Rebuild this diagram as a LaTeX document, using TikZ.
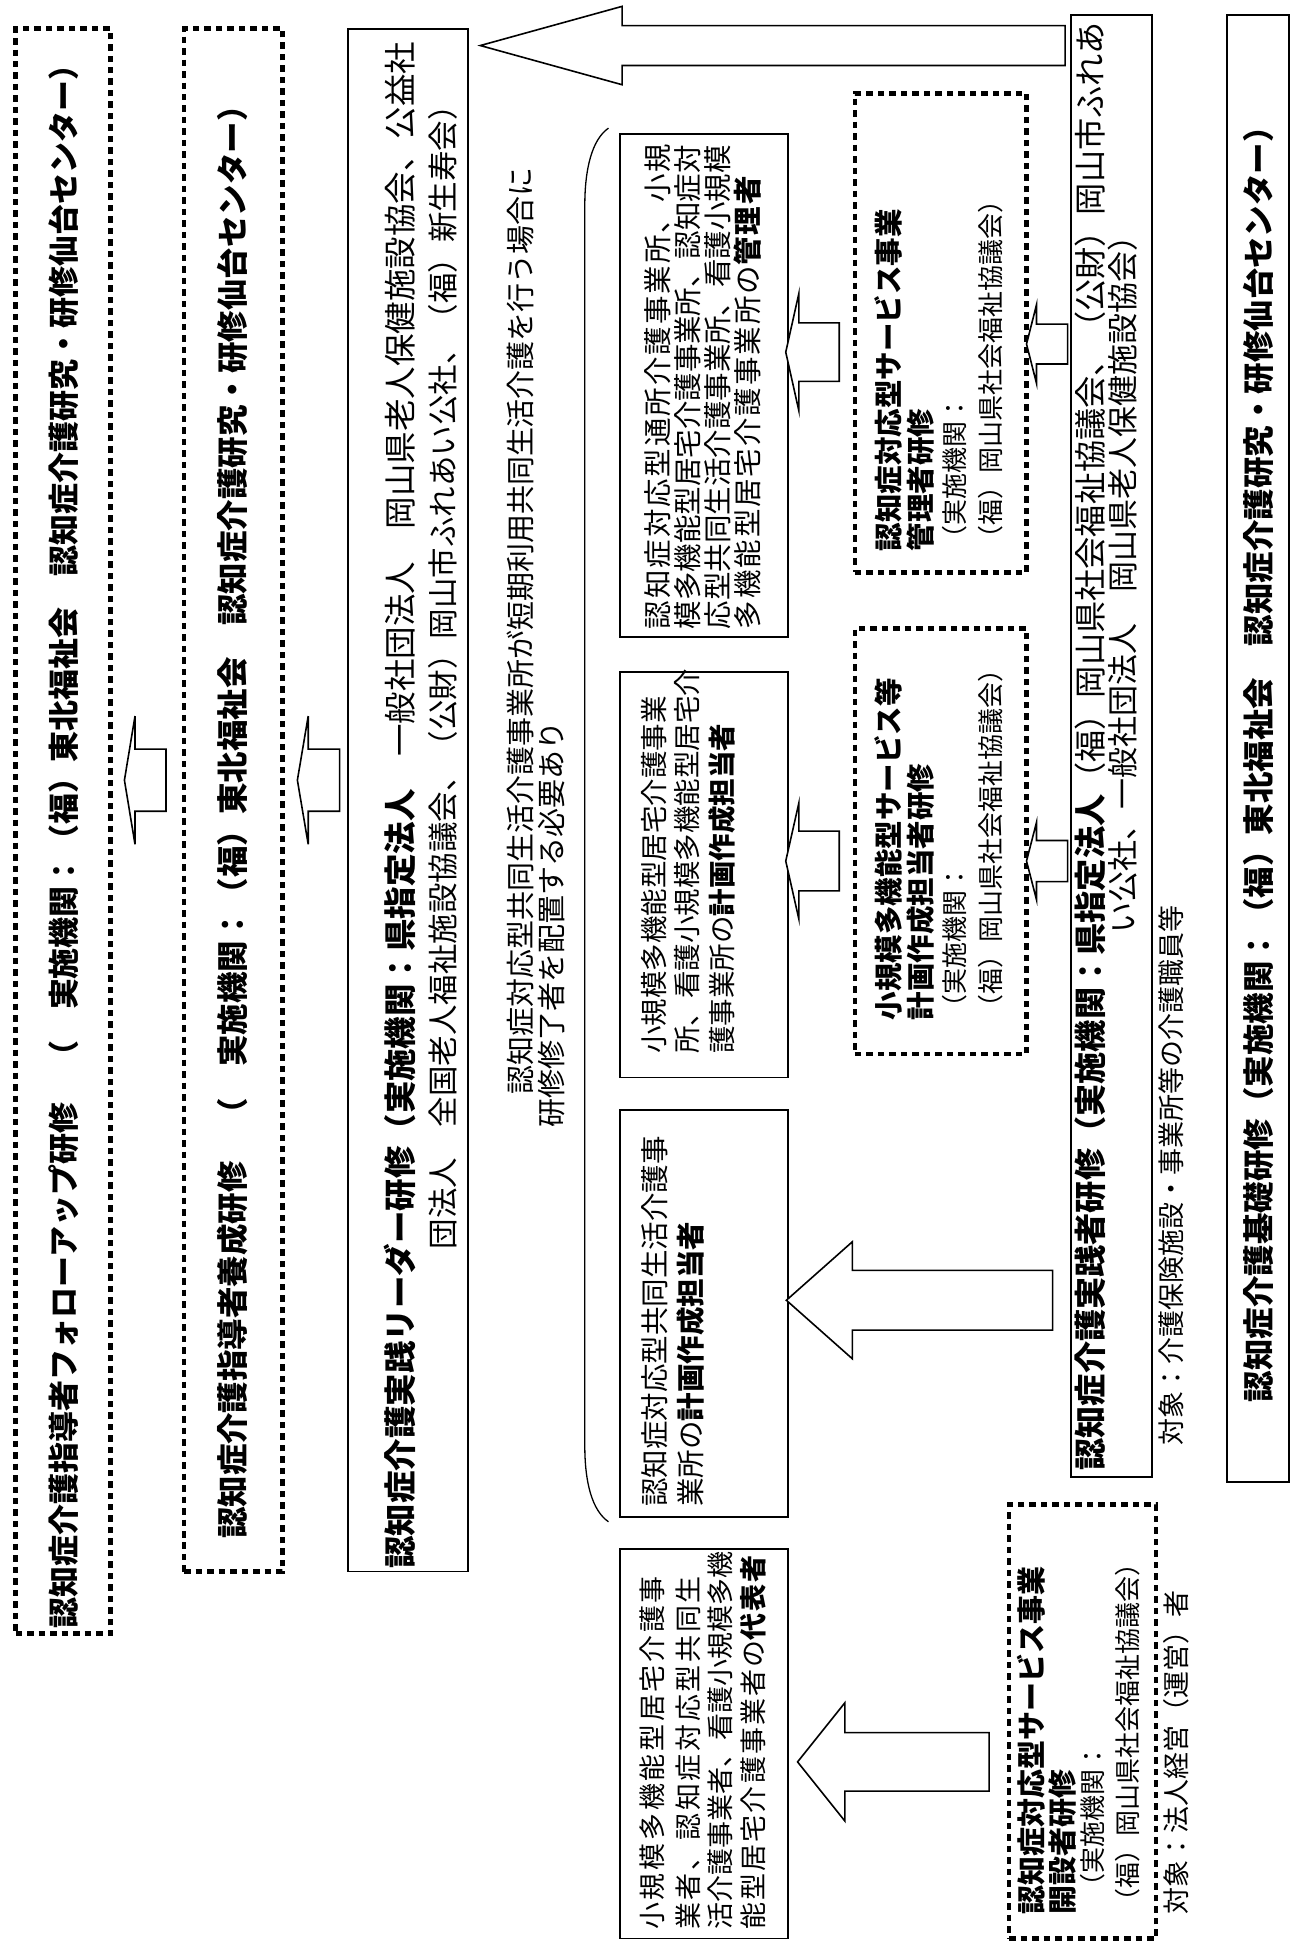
\documentclass[tikz,border=0pt]{standalone}
\usepackage{fontspec}
\setmainfont{Noto Sans CJK JP}
\usetikzlibrary{fit}
\newcommand{\fsz}[1]{\fontsize{#1}{#1}\selectfont}
\newcommand{\lsp}[1]{\addfontfeature{LetterSpace=#1}}
\newcommand{\myLarrow}[6]{%
  \draw[harrow] (#1,#2) -- (#3,{#2-#4}) -- (#3,{#2-#5}) -- (#6,{#2-#5}) -- (#6,{#2+#5}) -- (#3,{#2+#5}) -- (#3,{#2+#4}) -- cycle;}
\begin{document}
\begin{tikzpicture}[x=1.2447pt,y=-1.2447pt,
  tl/.style={rotate=90,anchor=west,inner sep=0pt},
  dotbox/.style={draw,line width=4.5pt,dash pattern=on 6.5pt off 5pt,inner sep=0pt},
  solidbox/.style={draw,line width=1.8pt,inner sep=0pt},
  harrow/.style={draw,line width=1.6pt,fill=white,line join=miter}]
\fill[white] (0,0) rectangle (1038,1568);
\useasboundingbox (0,0) rectangle (1038,1568);

% ---- boxes ----
\node[dotbox,fit={(12.5,23) (89,1313)}] (b1) {};
\node[dotbox,fit={(148,23) (227,1263)}] (b2) {};
\node[solidbox,fit={(280,23) (376,1263)}] (b3) {};
\node[solidbox,fit={(498,108) (633,512)}] (bA) {};
\node[solidbox,fit={(498,540) (633,866)}] (bB) {};
\node[solidbox,fit={(498,892) (633,1219)}] (bC) {};
\node[solidbox,fit={(498,1245) (633,1558)}] (bD) {};
\node[dotbox,fit={(687,75) (825,460)}] (bE) {};
\node[dotbox,fit={(687,505) (825,847)}] (bF) {};
\node[dotbox,fit={(811,1209) (929,1558)}] (bG) {};
\node[solidbox,fit={(861,12) (926,1187)}] (bH) {};
\node[solidbox,fit={(986,12) (1036,1191)}] (bI) {};

% ---- arrows ----
\myLarrow{100}{627}{108.5}{51.5}{25}{133.4}
\myLarrow{239}{627}{247.7}{51.5}{25}{273}
\myLarrow{386}{36.6}{500}{31.5}{16}{856}
\myLarrow{631.5}{283}{642}{47}{23.5}{674.5}
\myLarrow{631.5}{692}{642}{46.5}{24}{674.5}
\myLarrow{825}{276.5}{833}{31.5}{16}{858}
\myLarrow{825}{692}{833}{31}{16.5}{858}
\myLarrow{632}{1045}{685}{47}{24}{846}
\myLarrow{641}{1416}{679}{47.5}{23.5}{795}

% ---- bracket ----
\draw[line width=1.3pt] (489,103) .. controls (476,112) and (470,135) .. (470,165) -- (470,1162) .. controls (470,1192) and (476,1214) .. (489,1223);

% ---- texts ----
\node[tl,font={\fsz{31}\bfseries}] (t1) at (51.5,1309) {認知症介護指導者フォローアップ研修　（　実施機関：（福）東北福祉会　認知症介護研究・研修仙台センター）};
\node[tl,font={\fsz{31.5}\bfseries}] (t2) at (187,1237) {認知症介護指導者養成研修　（　実施機関：（福）東北福祉会　認知症介護研究・研修仙台センター）};
\node[tl,font={\fsz{32.5}}] (t3a) at (321.5,1261) {{\bfseries 認知症介護実践リーダー研修（実施機関：県指定法人}　一般社団法人　岡山県老人保健施設協会、公益社};
\node[tl,font={\fsz{30.5}}] (t3b) at (356,1004) {団法人　全国老人福祉施設協議会、（公財）岡山市ふれあい公社、（福）新生寿会）};

\node[tl,font={\fsz{29}}] (n1) at (418,880) {認知症対応型共同生活介護事業所が短期利用共同生活介護を行う場合に};
\node[tl,font={\fsz{29}}] (n2) at (443.5,906) {研修修了者を配置する必要あり};

\node[tl,font={\fsz{28.5}\lsp{7}}] (a1) at (528.6,506) {認知症対応型通所介護事業所、小規};
\node[tl,font={\fsz{28.5}}] (a2) at (553,506) {模多機能型居宅介護事業所、認知症対};
\node[tl,font={\fsz{28.5}}] (a3) at (577,506) {応型共同生活介護事業所、看護小規模};
\node[tl,font={\fsz{28.5}\lsp{7}}] (a4) at (601,506) {多機能型居宅介護事業所の{\bfseries 管理者}};

\node[tl,font={\fsz{27.5}}] (bb1) at (526,847) {小規模多機能型居宅介護事業};
\node[tl,font={\fsz{27.5}}] (bb2) at (552.5,847) {所、看護小規模多機能型居宅介};
\node[tl,font={\fsz{27.5}}] (bb3) at (580,847) {護事業所の{\bfseries 計画作成担当者}};

\node[tl,font={\fsz{28.5}}] (c1) at (526,1211) {認知症対応型共同生活介護事};
\node[tl,font={\fsz{28.5}}] (c2) at (555,1211) {業所の{\bfseries 計画作成担当者}};

\node[tl,font={\fsz{27}\lsp{10}}] (d1) at (524,1551) {小規模多機能型居宅介護事};
\node[tl,font={\fsz{27}\lsp{10}}] (d2) at (553.5,1551) {業者、認知症対応型共同生};
\node[tl,font={\fsz{27}}] (d3) at (578.5,1551) {活介護事業者、看護小規模多機};
\node[tl,font={\fsz{27}\lsp{8}}] (d4) at (605,1551) {能型居宅介護事業者の{\bfseries 代表者}};

\node[tl,font={\fsz{28.5}\bfseries}] (e1) at (714,443) {認知症対応型サービス事業};
\node[tl,font={\fsz{28.5}\bfseries}] (e2) at (740,443) {管理者研修};
\node[tl,font={\fsz{26}}] (e3) at (767,443) {（実施機関：};
\node[tl,font={\fsz{26}}] (e4) at (796,443) {（福）岡山県社会福祉協議会）};

\node[tl,font={\fsz{28.5}\bfseries}] (f1) at (714,820) {小規模多機能型サービス等};
\node[tl,font={\fsz{28.5}\bfseries}] (f2) at (740,820) {計画作成担当者研修};
\node[tl,font={\fsz{26}}] (f3) at (767,820) {（実施機関：};
\node[tl,font={\fsz{26}}] (f4) at (796,820) {（福）岡山県社会福祉協議会）};

\node[tl,font={\fsz{29}\bfseries}] (g1) at (829,1539) {認知症対応型サービス事業};
\node[tl,font={\fsz{29}\bfseries}] (g2) at (854,1539) {開設者研修};
\node[tl,font={\fsz{26}}] (g3) at (878,1527) {（実施機関：};
\node[tl,font={\fsz{26}}] (g4) at (906,1539) {（福）岡山県社会福祉協議会）};
\node[tl,font={\fsz{27}}] (g5) at (945,1539) {対象：法人経営（運営）者};

\node[tl,font={\fsz{32.2}}] (h1) at (876.5,1182) {{\bfseries 認知症介護実践者研修（実施機関：県指定法人}（福）岡山県社会福祉協議会、（公財）岡山市ふれあ};
\node[tl,font={\fsz{31}}] (h2) at (902,750) {い公社、一般社団法人　岡山県老人保健施設協会）};
\node[tl,font={\fsz{27}}] (h3) at (941,1162) {対象：介護保険施設・事業所等の介護職員等};

\node[tl,font={\fsz{31.5}\bfseries}] (i1) at (1011.5,1127) {認知症介護基礎研修（実施機関：（福）東北福祉会　認知症介護研究・研修仙台センター）};
\end{tikzpicture}
\end{document}
